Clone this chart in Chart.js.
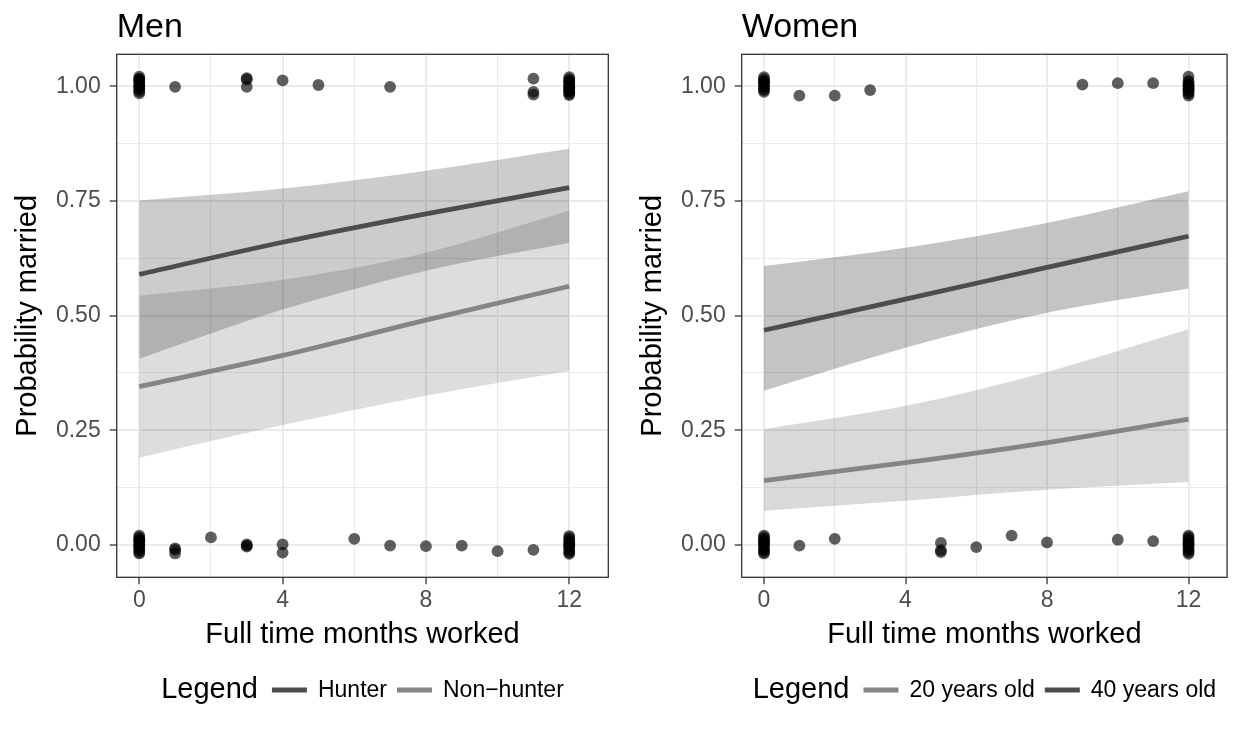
<!DOCTYPE html>
<html>
<head>
<meta charset="utf-8">
<script src="https://cdn.jsdelivr.net/npm/chart.js@4.4.1/dist/chart.umd.min.js"></script>
<style>
  html, body { margin: 0; padding: 0; background: #fff; }
  #wrap { position: relative; width: 1233px; height: 732px; overflow: hidden; }
  canvas { position: absolute; top: 0; }
</style>
</head>
<body>
<div id="wrap">
  <canvas id="menChart" width="616" height="732" style="left:0"></canvas>
  <canvas id="womenChart" width="608" height="732" style="left:625px"></canvas>
</div>
<script>
const FONT = '"Liberation Sans", Arial, Helvetica, sans-serif';

// axis setup
const xGridMonths = [0, 2, 4, 6, 8, 10, 12];
const xLabelMonths = [0, 4, 8, 12];
const yGridValues = [0, 0.125, 0.25, 0.375, 0.5, 0.625, 0.75, 0.875, 1];
const yLabelValues = [0, 0.25, 0.5, 0.75, 1];

const curveMonths = [0, 4, 8, 12];

// Men: fitted probability and band
const hunterFit = [0.590, 0.660, 0.722, 0.779];
const hunterUpper = [0.751, 0.777, 0.816, 0.864];
const hunterLower = [0.406, 0.513, 0.598, 0.659];
const nonHunterFit = [0.345, 0.413, 0.490, 0.564];
const nonHunterUpper = [0.543, 0.578, 0.637, 0.729];
const nonHunterLower = [0.190, 0.261, 0.325, 0.379];

// Women: fitted probability and band
const age40Fit = [0.468, 0.536, 0.605, 0.673];
const age40Upper = [0.608, 0.648, 0.702, 0.771];
const age40Lower = [0.336, 0.430, 0.506, 0.559];
const age20Fit = [0.140, 0.179, 0.223, 0.274];
const age20Upper = [0.252, 0.303, 0.377, 0.470];
const age20Lower = [0.074, 0.096, 0.120, 0.137];

// jittered observations [months, married]
const menPoints = [
  [0,1.021],[0,1.017],[0,1.013],[0,1.009],[0,1.005],[0,1.001],[0,0.997],[0,0.993],[0,0.989],[0,0.985],[0,1.015],[0,1.0],
  [1,0.999],[3,1.018],[3,1.015],[3,0.999],[4,1.013],[5,1.003],[7,0.999],
  [11,1.017],[11,0.988],[11,0.982],
  [12,1.02],[12,1.016],[12,1.012],[12,1.008],[12,1.004],[12,1.0],[12,0.996],[12,0.992],[12,0.988],[12,0.984],[12,0.981],[12,1.01],[12,0.998],[12,0.99],
  [0,0.02],[0,0.016],[0,0.012],[0,0.008],[0,0.004],[0,0.0],[0,-0.004],[0,-0.008],[0,-0.012],[0,-0.016],[0,-0.019],[0,0.01],[0,-0.002],
  [1,-0.008],[1,-0.011],[1,-0.019],[2,0.016],[3,0.001],[3,-0.002],[3,-0.004],[4,0.001],[4,-0.017],
  [6,0.013],[7,-0.002],[8,-0.003],[9,-0.002],[10,-0.014],[11,-0.011],
  [12,0.019],[12,0.015],[12,0.011],[12,0.007],[12,0.003],[12,-0.001],[12,-0.005],[12,-0.009],[12,-0.013],[12,-0.017],[12,-0.02],[12,0.0]
];
const womenPoints = [
  [0,1.02],[0,1.016],[0,1.012],[0,1.008],[0,1.004],[0,1.0],[0,0.996],[0,0.992],[0,0.988],[0,1.01],
  [1,0.98],[2,0.98],[3,0.992],[9,1.004],[10,1.007],[11,1.007],
  [12,1.021],[12,1.012],[12,1.008],[12,1.004],[12,1.0],[12,0.996],[12,0.992],[12,0.988],[12,0.984],[12,0.98],[12,1.002],[12,0.994],
  [0,0.02],[0,0.016],[0,0.012],[0,0.008],[0,0.004],[0,0.0],[0,-0.004],[0,-0.008],[0,-0.012],[0,-0.016],[0,-0.019],[0,0.006],
  [1,-0.002],[2,0.013],[5,0.004],[5,-0.012],[5,-0.016],[6,-0.005],[7,0.02],[8,0.005],[10,0.011],[11,0.008],
  [12,0.02],[12,0.016],[12,0.012],[12,0.008],[12,0.004],[12,0.0],[12,-0.004],[12,-0.008],[12,-0.012],[12,-0.016],[12,-0.02],[12,0.002]
];

const DARK_LINE = "#4d4d4d";
const LIGHT_LINE = "#858585";

function toXY(values) {
    return values.map((v, i) => ({ x: curveMonths[i], y: v }));
}

// frame, panel title and inline legend
const panelDecor = {
    id: "panelDecor",
    afterDraw(chart, args, opts) {
        const { ctx, chartArea: a } = chart;
        ctx.save();
        ctx.strokeStyle = "#333333";
        ctx.lineWidth = 1.3;
        ctx.strokeRect(a.left, a.top, a.right - a.left, a.bottom - a.top);

        ctx.fillStyle = "#000";
        ctx.textAlign = "left";
        ctx.textBaseline = "alphabetic";
        ctx.font = `34px ${FONT}`;
        ctx.fillText(opts.title, a.left, 37);

        // legend row
        const items = chart.data.datasets
            .filter(d => d.legendRank !== undefined)
            .sort((p, q) => p.legendRank - q.legendRank);
        const titleFont = `29px ${FONT}`;
        const itemFont = `23px ${FONT}`;
        const keyLen = 35, gapTitle = 14, gapKey = 11, gapItem = 10;
        ctx.font = titleFont;
        let total = ctx.measureText("Legend").width + gapTitle;
        ctx.font = itemFont;
        items.forEach((it, i) => {
            total += keyLen + gapKey + ctx.measureText(it.label).width + (i < items.length - 1 ? gapItem : 0);
        });
        const cy = 690;
        let x = (a.left + a.right) / 2 - total / 2;
        ctx.textBaseline = "middle";
        ctx.font = titleFont;
        ctx.fillStyle = "#000";
        ctx.fillText("Legend", x, cy);
        x += ctx.measureText("Legend").width + gapTitle;
        ctx.font = itemFont;
        items.forEach(it => {
            ctx.strokeStyle = it.borderColor;
            ctx.lineWidth = 5;
            ctx.beginPath();
            ctx.moveTo(x, cy);
            ctx.lineTo(x + keyLen, cy);
            ctx.stroke();
            x += keyLen + gapKey;
            ctx.fillStyle = "#000";
            ctx.fillText(it.label, x, cy + 1);
            x += ctx.measureText(it.label).width + gapItem;
        });
        ctx.restore();
    }
};

function makePanel(canvasId, title, series, points, padRight) {
    const datasets = [];
    series.forEach(s => {
        datasets.push({
            label: s.label,
            data: toXY(s.fit),
            borderColor: s.lineColor,
            borderWidth: 4.8,
            borderCapStyle: "butt",
            pointRadius: 0,
            fill: false,
            cubicInterpolationMode: "monotone",
            legendRank: s.legendRank,
            order: 0
        });
    });
    datasets.push({
        label: "observed",
        data: points.map(([x, y]) => ({ x, y })),
        showLine: false,
        pointRadius: 5.9,
        pointBorderWidth: 0,
        pointBackgroundColor: "rgba(0,0,0,0.63)",
        order: 1
    });
    series.forEach(s => {
        datasets.push({
            label: s.label + " upper",
            data: toXY(s.upper),
            borderWidth: 0,
            pointRadius: 0,
            fill: "+1",
            backgroundColor: s.bandColor,
            cubicInterpolationMode: "monotone",
            order: 2
        });
        datasets.push({
            label: s.label + " lower",
            data: toXY(s.lower),
            borderWidth: 0,
            pointRadius: 0,
            fill: false,
            cubicInterpolationMode: "monotone",
            order: 2
        });
    });

    const tickFont = { family: FONT, size: 23 };
    const titleFont = { family: FONT, size: 29 };

    return new Chart(document.getElementById(canvasId), {
        type: "line",
        data: { datasets },
        plugins: [panelDecor],
        options: {
            responsive: false,
            animation: false,
            events: [],
            layout: { padding: { left: 0, right: padRight, top: 54.3, bottom: 74.7 } },
            plugins: {
                legend: { display: false },
                tooltip: { enabled: false },
                panelDecor: { title }
            },
            scales: {
                x: {
                    type: "linear",
                    min: -0.63,
                    max: 13.09,
                    afterBuildTicks: s => { s.ticks = xGridMonths.map(v => ({ value: v })); },
                    afterFit: s => { s.height = 80; },
                    border: { display: false },
                    grid: {
                        color: "#ebebeb",
                        lineWidth: c => (xLabelMonths.includes(c.tick.value) ? 2 : 1.1),
                        tickLength: 7,
                        tickWidth: 1.3,
                        tickColor: c => (xLabelMonths.includes(c.tick.value) ? "#333333" : "rgba(0,0,0,0)")
                    },
                    ticks: {
                        autoSkip: false,
                        maxRotation: 0,
                        padding: 3,
                        color: "#4d4d4d",
                        font: tickFont,
                        callback: v => (xLabelMonths.includes(v) ? String(v) : "")
                    },
                    title: {
                        display: true,
                        text: "Full time months worked",
                        color: "#000",
                        font: titleFont,
                        padding: { top: 0, bottom: 4.5 }
                    }
                },
                y: {
                    type: "linear",
                    min: -0.071,
                    max: 1.07,
                    afterBuildTicks: s => { s.ticks = yGridValues.map(v => ({ value: v })); },
                    afterFit: s => { s.width = 116.7; },
                    border: { display: false },
                    grid: {
                        color: "#ebebeb",
                        lineWidth: c => (yLabelValues.includes(c.tick.value) ? 2 : 1.1),
                        tickLength: 7,
                        tickWidth: 1.3,
                        tickColor: c => (yLabelValues.includes(c.tick.value) ? "#333333" : "rgba(0,0,0,0)")
                    },
                    ticks: {
                        autoSkip: false,
                        padding: 9,
                        color: "#4d4d4d",
                        font: tickFont,
                        callback: v => (yLabelValues.includes(v) ? v.toFixed(2) : "")
                    },
                    title: {
                        display: true,
                        text: "Probability married",
                        color: "#000",
                        font: titleFont,
                        padding: { top: 10.5, bottom: 0 }
                    }
                }
            }
        }
    });
}

makePanel("menChart", "Men", [
    { label: "Hunter", fit: hunterFit, upper: hunterUpper, lower: hunterLower,
      lineColor: DARK_LINE, bandColor: "rgba(0,0,0,0.2)", legendRank: 0 },
    { label: "Non\u2212hunter", fit: nonHunterFit, upper: nonHunterUpper, lower: nonHunterLower,
      lineColor: LIGHT_LINE, bandColor: "rgba(0,0,0,0.135)", legendRank: 1 }
], menPoints, 7.7);

makePanel("womenChart", "Women", [
    { label: "40 years old", fit: age40Fit, upper: age40Upper, lower: age40Lower,
      lineColor: DARK_LINE, bandColor: "rgba(0,0,0,0.23)", legendRank: 1 },
    { label: "20 years old", fit: age20Fit, upper: age20Upper, lower: age20Lower,
      lineColor: LIGHT_LINE, bandColor: "rgba(0,0,0,0.15)", legendRank: 0 }
], womenPoints, 1);
</script>
</body>
</html>
